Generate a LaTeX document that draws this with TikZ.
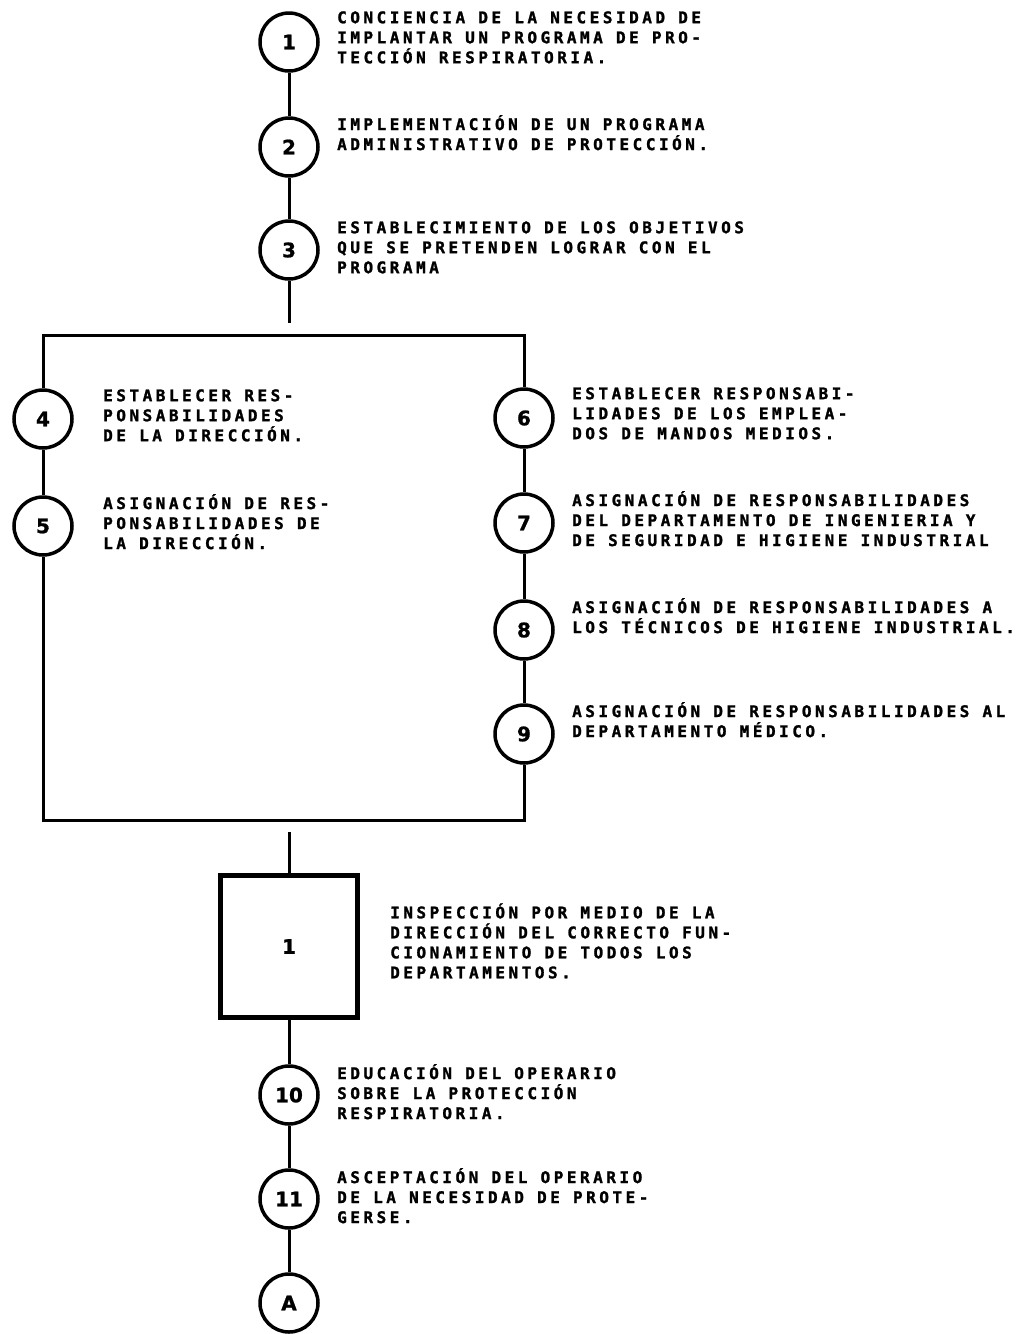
\documentclass[tikz,border=0pt]{standalone}
\usepackage{fontspec}
\newfontfamily\flowfont{DejaVu Sans Mono}[LetterSpace=22, BoldFeatures={FakeBold=1.5}]
\newfontfamily\numfont{DejaVu Sans}[BoldFeatures={FakeBold=1}]
\newcommand{\linestrut}{\rule{0pt}{13pt}}
\begin{document}
\begin{tikzpicture}[x=1pt,y=-1pt,
  stepcircle/.style={circle, draw, line width=3.5pt, minimum size=58pt, inner sep=0pt,
    font=\numfont\bfseries\fontsize{20}{20}\selectfont},
  stepnote/.style={anchor=north west, align=left, inner sep=0pt,
    font=\flowfont\bfseries\fontsize{16}{20}\selectfont},
  sidenote/.style={stepnote, anchor=west},
  inspectbox/.style={draw, line width=5pt, minimum width=137pt, minimum height=142pt,
    inner sep=0pt, font=\numfont\bfseries\fontsize{20}{20}\selectfont},
  link/.style={line width=3pt}
]
\useasboundingbox (0,0) rectangle (1028,1334);

% main column
\node[stepcircle] (c1) at (289,42) {1};
\node[stepcircle] (c2) at (289,147) {2};
\node[stepcircle] (c3) at (289,250) {3};
\node[stepnote] (t1) at (337,10) {\linestrut CONCIENCIA DE LA NECESIDAD DE\\IMPLANTAR UN PROGRAMA DE PRO-\\TECCIÓN RESPIRATORIA.};
\node[stepnote] (t2) at (337,115) {\linestrut IMPLEMENTACIÓN DE UN PROGRAMA\\ADMINISTRATIVO DE PROTECCIÓN.};
\node[stepnote] (t3) at (337,220) {\linestrut ESTABLECIMIENTO DE LOS OBJETIVOS\\QUE SE PRETENDEN LOGRAR CON EL\\PROGRAMA};

% left branch
\node[stepcircle] (c4) at (43,419) {4};
\node[stepcircle] (c5) at (43,526) {5};
\node[stepnote] (t4) at (103,388) {\linestrut ESTABLECER RES-\\PONSABILIDADES\\DE LA DIRECCIÓN.};
\node[stepnote] (t5) at (103,494) {\linestrut ASIGNACIÓN DE RES-\\PONSABILIDADES DE\\LA DIRECCIÓN.};

% right branch
\node[stepcircle] (c6) at (524,418) {6};
\node[stepcircle] (c7) at (524,523) {7};
\node[stepcircle] (c8) at (524,630) {8};
\node[stepcircle] (c9) at (524,734) {9};
\node[stepnote] (t6) at (572,386) {\linestrut ESTABLECER RESPONSABI-\\LIDADES DE LOS EMPLEA-\\DOS DE MANDOS MEDIOS.};
\node[stepnote] (t7) at (572,491) {\linestrut ASIGNACIÓN DE RESPONSABILIDADES\\DEL DEPARTAMENTO DE INGENIERIA Y\\DE SEGURIDAD E HIGIENE INDUSTRIAL};
\node[stepnote] (t8) at (572,598) {\linestrut ASIGNACIÓN DE RESPONSABILIDADES A\\LOS TÉCNICOS DE HIGIENE INDUSTRIAL.};
\node[stepnote] (t9) at (572,702) {\linestrut ASIGNACIÓN DE RESPONSABILIDADES AL\\DEPARTAMENTO MÉDICO.};

% frame corners and split points
\coordinate (split) at (289,323);
\coordinate (tl) at (43,335);
\coordinate (tr) at (524,335);
\coordinate (bl) at (43,820);
\coordinate (br) at (524,820);
\coordinate (join) at (289,832);

% inspection box
\node[inspectbox] (insp) at (289,946.5) {1};
\node[sidenote] (ti) at (390,941) {INSPECCIÓN POR MEDIO DE LA\\DIRECCIÓN DEL CORRECTO FUN-\\CIONAMIENTO DE TODOS LOS\\DEPARTAMENTOS.};

% lower column
\node[stepcircle] (c10) at (289,1095) {10};
\node[stepcircle] (c11) at (289,1199) {11};
\node[stepcircle] (cA) at (289,1303) {A};
\node[stepnote] (t10) at (337,1064) {\linestrut EDUCACIÓN DEL OPERARIO\\SOBRE LA PROTECCIÓN\\RESPIRATORIA.};
\node[stepnote] (t11) at (337,1168) {\linestrut ASCEPTACIÓN DEL OPERARIO\\DE LA NECESIDAD DE PROTE-\\GERSE.};

% connectors
\draw[link] (c1) -- (c2);
\draw[link] (c2) -- (c3);
\draw[link] (c3) -- (split);
\draw[link] (c4) -- (tl) -- (tr) -- (c6);
\draw[link] (c4) -- (c5);
\draw[link] (c5) -- (bl) -- (br) -- (c9);
\draw[link] (c6) -- (c7);
\draw[link] (c7) -- (c8);
\draw[link] (c8) -- (c9);
\draw[link] (join) -- (insp);
\draw[link] (insp) -- (c10);
\draw[link] (c10) -- (c11);
\draw[link] (c11) -- (cA);
\end{tikzpicture}
\end{document}
